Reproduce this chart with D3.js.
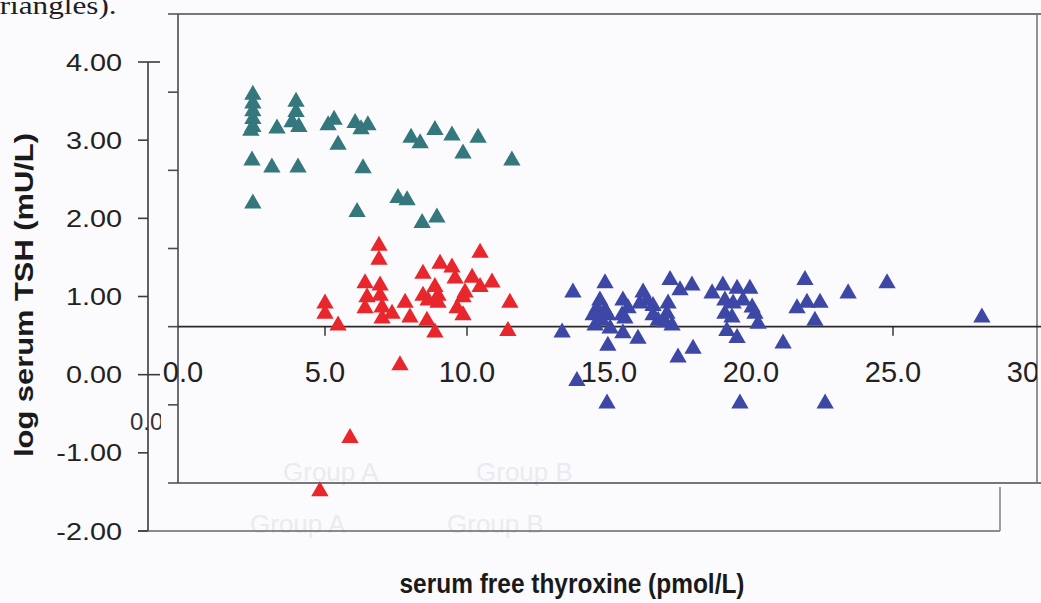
<!DOCTYPE html>
<html lang="en">
<head>
<meta charset="UTF-8">
<title>log TSH vs free thyroxine</title>
<script src="https://d3js.org/d3.v7.min.js"></script>
<style>
  body { margin: 0; background: #fbfbfd; }
  svg { display: block; }
  text { font-family: "Liberation Sans", Arial, sans-serif; }
</style>
</head>
<body>
<div id="chart"></div>
<script>
// values: [free T4 (pmol/L), log TSH (mU/L)]
const groupTeal = [
  [2.46, 3.58], [2.46, 3.47], [2.46, 3.37], [2.46, 3.27], [2.46, 3.17], [2.39, 3.12],
  [2.43, 2.74], [2.46, 2.19], [3.31, 3.15], [3.13, 2.65],
  [3.98, 3.49], [3.98, 3.36], [3.84, 3.23], [4.08, 3.17], [4.05, 2.65],
  [5.11, 3.19], [5.32, 3.26], [5.46, 2.94], [6.06, 3.22], [6.27, 3.14], [6.51, 3.19],
  [6.34, 2.64], [6.13, 2.08],
  [8.03, 3.03], [8.35, 2.96], [8.87, 3.13], [9.47, 3.06], [9.86, 2.83], [10.39, 3.03], [11.58, 2.74],
  [7.57, 2.26], [7.89, 2.23], [8.94, 2.01], [8.42, 1.94]
];
const groupRed = [
  [6.90, 1.65], [6.90, 1.47], [10.46, 1.56], [9.05, 1.42], [9.47, 1.37], [9.58, 1.23],
  [8.45, 1.29], [10.18, 1.24], [10.88, 1.18], [10.46, 1.12], [9.93, 1.05], [9.86, 0.99],
  [6.41, 1.17], [6.94, 1.14], [6.94, 1.01], [6.48, 0.99], [6.41, 0.85], [7.01, 0.86],
  [8.87, 1.12], [8.98, 1.01], [8.45, 1.01], [8.63, 0.95], [8.98, 0.92], [7.82, 0.92],
  [7.99, 0.73], [7.36, 0.78], [7.01, 0.72], [5.00, 0.91], [5.00, 0.78], [5.46, 0.63],
  [11.51, 0.92], [11.44, 0.56], [9.65, 0.85], [9.86, 0.76], [8.59, 0.69], [8.87, 0.54],
  [7.64, 0.12], [5.88, -0.81], [4.82, -1.49]
];
const groupBlue = [
  [13.73, 1.05], [14.86, 1.17], [14.68, 0.95], [14.58, 0.85], [14.44, 0.76], [14.86, 0.82],
  [14.96, 0.76], [14.51, 0.63], [15.04, 0.59], [14.75, 0.69], [15.49, 0.95], [15.67, 0.85],
  [15.46, 0.76], [15.56, 0.72], [15.49, 0.53], [16.02, 0.46], [14.96, 0.37], [16.20, 1.05],
  [16.34, 0.95], [16.09, 0.91], [16.55, 0.88], [16.55, 0.76], [16.73, 0.69], [17.08, 0.91],
  [17.04, 0.78], [17.22, 0.63], [16.97, 0.67], [17.15, 1.21], [17.50, 1.08], [17.92, 1.14],
  [18.63, 1.04], [13.35, 0.54], [17.43, 0.22], [17.96, 0.33], [13.87, -0.08], [14.93, -0.37],
  [19.01, 1.14], [19.51, 1.10], [19.96, 1.10], [19.08, 0.95], [19.37, 0.91], [19.72, 0.95],
  [20.04, 0.86], [19.08, 0.78], [19.33, 0.73], [20.14, 0.78], [20.25, 0.65], [19.15, 0.56],
  [19.51, 0.47], [21.13, 0.40], [21.90, 1.21], [21.62, 0.85], [21.97, 0.92], [22.43, 0.92],
  [22.25, 0.69], [23.42, 1.04], [19.61, -0.37], [22.61, -0.37], [24.79, 1.17], [28.13, 0.73]
];

const yTicks = [-2, -1, 0, 1, 2, 3, 4];
const yTickLabels = ["-2.00", "-1.00", "0.00", "1.00", "2.00", "3.00", "4.00"];
const xTicks = [0, 5, 10, 15, 20, 25, 30];
const xTickLabels = ["0.0", "5.0", "10.0", "15.0", "20.0", "25.0", "30.0"];
const innerTicks = [-1, 0, 1, 2, 3];

const W = 1041, H = 603;

const svg = d3.select("#chart").append("svg")
  .attr("width", W).attr("height", H);

svg.append("rect").attr("width", W).attr("height", H).attr("fill", "#fbfbfd");

const x = d3.scaleLinear().domain([0, 30]).range([183, 1035]);
const y = d3.scaleLinear().domain([-2, 4]).range([531, 62]);
// the pasted inner plot frame has its own vertical scale
const yIn = d3.scaleLinear().domain([-2, 4]).range([483, 14]);

// scan is stretched sideways, widen a text by this factor
function stretch(sel, k) {
  sel.each(function() {
    const w = this.getComputedTextLength();
    d3.select(this).attr("textLength", w * k).attr("lengthAdjust", "spacingAndGlyphs");
  });
}

svg.append("defs").append("clipPath").attr("id", "rightEdge")
  .append("rect").attr("x", 0).attr("y", 0).attr("width", 1037).attr("height", H);
svg.append("defs").append("clipPath").attr("id", "ghostClip")
  .append("rect").attr("x", 0).attr("y", 0).attr("width", 161).attr("height", H);

// faint print-through from the other side of the page
const ghost = svg.append("g").attr("fill", "#eaeaf0").style("font-size", "26px");
ghost.append("text").attr("x", 283).attr("y", 481).text("Group A");
ghost.append("text").attr("x", 476).attr("y", 481).text("Group B");
ghost.append("text").attr("x", 250).attr("y", 533).text("Group A");
ghost.append("text").attr("x", 447).attr("y", 533).text("Group B");

// caption fragment at the top
svg.append("text")
  .attr("x", -9).attr("y", 14)
  .style("font-family", "'Liberation Serif', 'Times New Roman', serif")
  .style("font-size", "26px")
  .attr("fill", "#1e1e1e")
  .text("triangles).")
  .call(stretch, 1.2);

// inner frame
const inner = svg.append("g").attr("stroke", "#4a4a55").attr("stroke-width", 1.6).attr("fill", "none");
inner.append("line").attr("x1", 168).attr("x2", W).attr("y1", yIn(4)).attr("y2", yIn(4));
inner.append("line").attr("x1", 168).attr("x2", W).attr("y1", yIn(-2)).attr("y2", yIn(-2));
inner.append("line").attr("x1", 178).attr("x2", 178).attr("y1", yIn(4)).attr("y2", yIn(-2));
inner.append("line").attr("x1", 1037).attr("x2", 1037).attr("y1", yIn(4)).attr("y2", yIn(-2))
  .attr("stroke", "#777");
inner.selectAll(".itick").data(innerTicks).enter().append("line")
  .attr("x1", 168).attr("x2", 178)
  .attr("y1", d => yIn(d)).attr("y2", d => yIn(d));

// horizontal axis line with downward ticks
svg.append("line")
  .attr("x1", 178).attr("x2", W)
  .attr("y1", yIn(0)).attr("y2", yIn(0))
  .attr("stroke", "#2a2a2a").attr("stroke-width", 1.6);
svg.selectAll(".xtick").data([5, 10, 25]).enter().append("line")
  .attr("x1", d => x(d)).attr("x2", d => x(d))
  .attr("y1", yIn(0)).attr("y2", yIn(0) + 9)
  .attr("stroke", "#2a2a2a").attr("stroke-width", 1.4);

// outer axis
const outer = svg.append("g").attr("stroke", "#3a3a44").attr("stroke-width", 1.6);
outer.append("line").attr("x1", 148).attr("x2", 148).attr("y1", y(4)).attr("y2", y(-2));
outer.append("line").attr("x1", 138).attr("x2", 1000).attr("y1", y(-2)).attr("y2", y(-2))
  .attr("stroke", "#666");
outer.append("line").attr("x1", 1000).attr("x2", 1000).attr("y1", 487).attr("y2", y(-2))
  .attr("stroke", "#888");
outer.selectAll(".ytick").data(yTicks).enter().append("line")
  .attr("x1", 138)
  .attr("x2", d => (d === 4 || d === 0) ? 160 : 148)
  .attr("y1", d => y(d)).attr("y2", d => y(d));

// y tick labels
svg.selectAll(".ylab").data(yTicks).enter().append("text")
  .attr("x", 122).attr("y", d => y(d) + 8.5)
  .attr("text-anchor", "end")
  .style("font-size", "24px")
  .attr("fill", "#222")
  .text((d, i) => yTickLabels[i])
  .call(stretch, 1.2);

// clipped stray label left of the inner frame
svg.append("text")
  .attr("x", 130).attr("y", 430)
  .attr("clip-path", "url(#ghostClip)")
  .style("font-size", "24px")
  .attr("fill", "#333")
  .text("0.0");

// x tick labels
svg.append("g").attr("clip-path", "url(#rightEdge)")
  .selectAll("text").data(xTicks).enter().append("text")
  .attr("x", d => x(d)).attr("y", 382)
  .attr("text-anchor", "middle")
  .style("font-size", "29px")
  .attr("fill", "#222")
  .text((d, i) => xTickLabels[i]);

// axis titles
svg.append("text")
  .attr("transform", "translate(33,295) rotate(-90)")
  .attr("text-anchor", "middle")
  .style("font-size", "26px").style("font-weight", "bold")
  .attr("fill", "#1a1a1a")
  .attr("textLength", 324).attr("lengthAdjust", "spacingAndGlyphs")
  .text("log serum TSH (mU/L)");

svg.append("text")
  .attr("x", 572).attr("y", 593)
  .attr("text-anchor", "middle")
  .style("font-size", "27px").style("font-weight", "bold")
  .attr("fill", "#1a1a1a")
  .attr("textLength", 345).attr("lengthAdjust", "spacingAndGlyphs")
  .text("serum free thyroxine (pmol/L)");

// points
const tri = d3.symbol().type(d3.symbolTriangle).size(130);
const groups = [
  { data: groupTeal, color: "#34777c" },
  { data: groupRed, color: "#e8262c" },
  { data: groupBlue, color: "#3c47a6" }
];
groups.forEach(g => {
  svg.append("g").selectAll("path").data(g.data).enter().append("path")
    .attr("d", tri)
    .attr("transform", d => `translate(${x(d[0])},${y(d[1])})`)
    .attr("fill", g.color);
});
</script>
</body>
</html>
